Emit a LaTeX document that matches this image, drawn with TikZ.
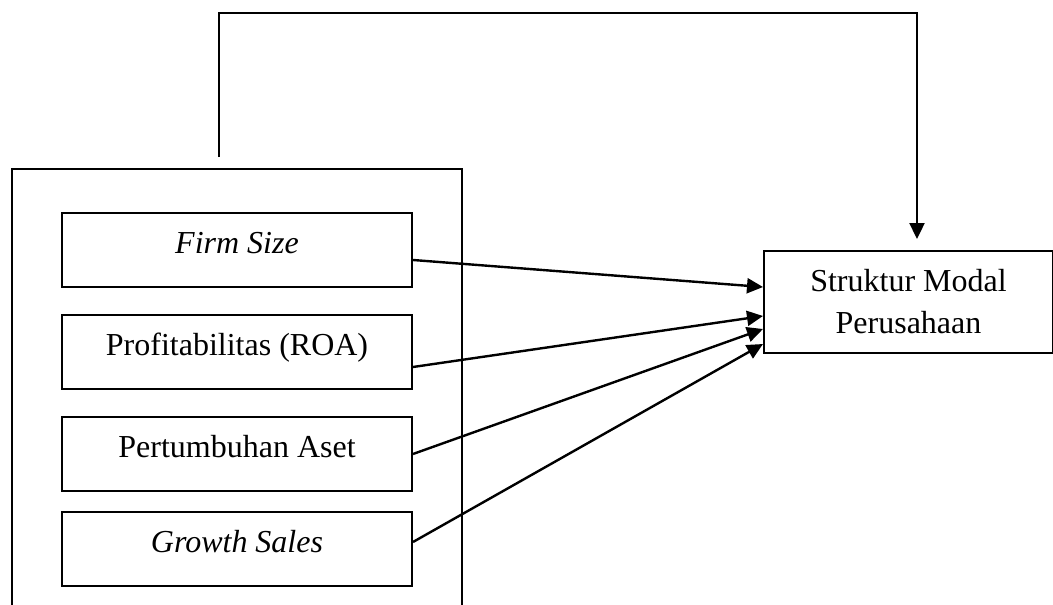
\documentclass[tikz,border=0pt]{standalone}
\usepackage{fontspec}
\setmainfont{Liberation Serif}
\usetikzlibrary{arrows.meta}
\begin{document}
\begin{tikzpicture}[x=1pt,y=-1pt,
  every node/.style={font=\fontsize{32}{42}\selectfont},
  box/.style={draw,line width=2pt,inner sep=0pt},
  var/.style={box,minimum width=350pt,minimum height=74pt,text height=22pt,text depth=14.8pt,anchor=north west},
  arr/.style={line width=2.4pt,-{Triangle[length=16pt,width=15pt]}}]
\useasboundingbox (0,0) rectangle (1053,605);
\clip (0,0) rectangle (1053,605);
\node[box,minimum width=450pt,minimum height=460pt,anchor=north west] (group) at (11,168) {};
\node[var] (fs) at (61,212) {\itshape Firm Size};
\node[var] (roa) at (61,314) {Profitabilitas (ROA)};
\node[var] (pa) at (61,416) {Pertumbuhan Aset};
\node[var] (gs) at (61,511) {\itshape Growth Sales};
\node[box,minimum width=289pt,minimum height=102pt,anchor=north west,align=center] (sm) at (763,250) {Struktur Modal\\Perusahaan};
\draw[arr] ([yshift=-10pt]fs.east) -- ([yshift=15pt]sm.west);
\draw[arr] ([yshift=-15pt]roa.east) -- ([yshift=-14pt]sm.west);
\draw[arr] (pa.east) -- ([yshift=-27pt]sm.west);
\draw[arr] ([yshift=7pt]gs.east) -- ([yshift=-42pt]sm.west);
\coordinate (tl) at (219,157);
\coordinate (tr) at (917,13);
\coordinate (tb) at ([yshift=11pt]sm.north);
\draw[arr] (tl) |- (tr) -- (tr |- tb);
\end{tikzpicture}
\end{document}
